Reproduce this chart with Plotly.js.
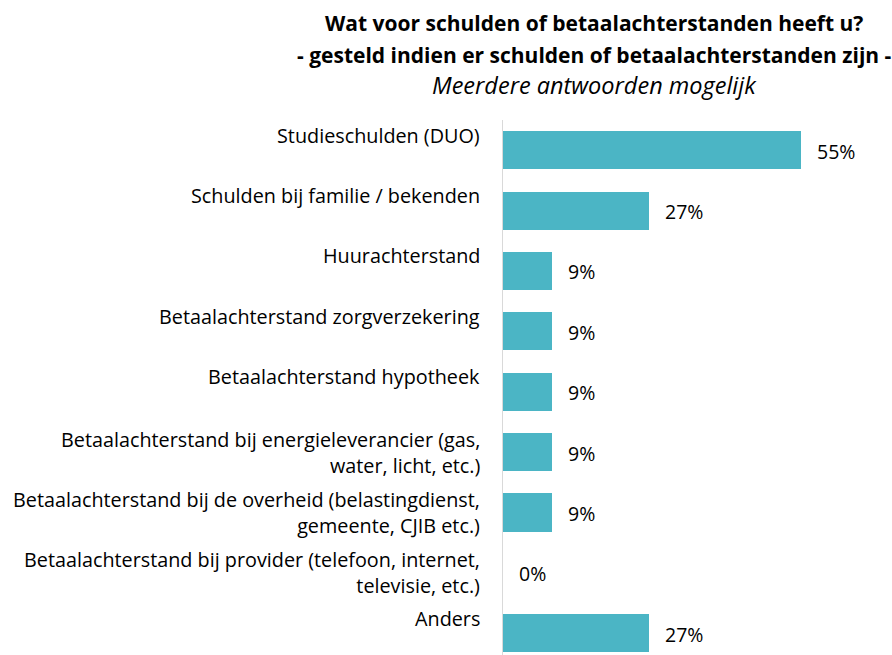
<!DOCTYPE html>
<html><head><meta charset="utf-8">
<script src="https://cdn.plot.ly/plotly-3.0.1.min.js"></script>
<style>body{margin:0;background:#fff}#c{width:892px;height:655px}</style>
</head><body><div id="c"></div>
<script>
const categories = [
  "Studieschulden (DUO)",
  "Schulden bij familie / bekenden",
  "Huurachterstand",
  "Betaalachterstand zorgverzekering",
  "Betaalachterstand hypotheek",
  "Betaalachterstand bij energieleverancier (gas,<br>water, licht, etc.)",
  "Betaalachterstand bij de overheid (belastingdienst,<br>gemeente, CJIB etc.)",
  "Betaalachterstand bij provider (telefoon, internet,<br>televisie, etc.)",
  "Anders"
];
const values = [55, 27, 9, 9, 9, 9, 9, 0, 27];
const valueLabels = ["55%", "27%", "9%", "9%", "9%", "9%", "9%", "0%", "27%"];
const titleLines = [
  "<b>Wat voor schulden of betaalachterstanden heeft u?</b>",
  "<b>- gesteld indien er schulden of betaalachterstanden zijn -</b>",
  "<i>Meerdere antwoorden mogelijk</i>"
];

const idx = categories.map((_, i) => i);
const FONT = "Open Sans, sans-serif";
const LBL = 19.8;

const annotations = categories.map((c, i) => ({
  x: 0, xref: 'x', y: i, yref: 'y',
  xanchor: 'right', yanchor: 'middle', align: 'right',
  xshift: -21, yshift: c.includes('<br>') ? 0 : 15,
  text: c, showarrow: false,
  font: {family: FONT, size: LBL, color: '#000'}
}));
values.forEach((v, i) => annotations.push({
  x: v, xref: 'x', y: i, yref: 'y',
  xanchor: 'left', yanchor: 'middle', xshift: 14, yshift: -1,
  text: valueLabels[i], showarrow: false,
  font: {family: FONT, size: 19.5, color: '#000'}
}));
const titleY = [23, 55, 85];
const titleSize = [21, 21, 23.5];
titleLines.forEach((t, i) => annotations.push({
  xref: 'paper', yref: 'paper', x: (594 - 503) / 379, y: 1,
  xanchor: 'center', yanchor: 'middle', showarrow: false,
  yshift: 120 - titleY[i],
  text: t, font: {family: FONT, size: titleSize[i], color: '#000'}
}));

const trace = {
  type: 'bar', orientation: 'h',
  x: values, y: idx,
  width: 0.63,
  marker: {color: '#4BB5C5'},
  hoverinfo: 'skip'
};

const layout = {
  width: 892, height: 655,
  margin: {l: 503, r: 10, t: 120, b: 0},
  paper_bgcolor: '#fff', plot_bgcolor: '#fff',
  showlegend: false,
  bargap: 0,
  xaxis: {range: [0, 70], showgrid: false, zeroline: false, showticklabels: false, showline: false, ticks: ''},
  yaxis: {range: [8.36, -0.5], autorange: false, showgrid: false, zeroline: false,
          showticklabels: false, ticks: '', showline: true, linecolor: '#d9d9d9', linewidth: 1.5},
  annotations: annotations
};
Plotly.newPlot('c', [trace], layout, {displayModeBar: false, staticPlot: true});
</script></body></html>
